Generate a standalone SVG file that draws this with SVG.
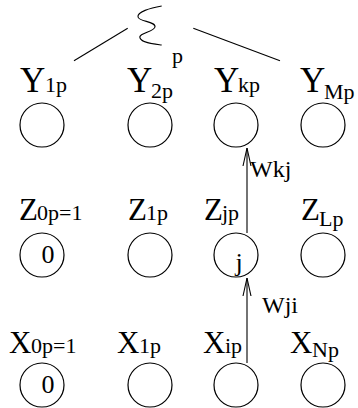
<svg xmlns="http://www.w3.org/2000/svg" width="358" height="408" viewBox="0 0 358 408" font-family="'Liberation Serif', 'DejaVu Serif', serif">
<style>
.n{fill:none;stroke:#000;stroke-width:1.2}
.c{fill:none;stroke:#000;stroke-width:1.1}
text, tspan{font-family:'Liberation Serif', 'DejaVu Serif', serif;fill:#000}
.y{font-size:35px}
.b{font-size:31px}
.s{font-size:22px}
.w{font-size:24px}
.i{font-size:26px}
</style>
<defs>
<marker id="ah" markerUnits="userSpaceOnUse" markerWidth="20" markerHeight="10" refX="18" refY="4" orient="auto" viewBox="0 0 20 8">
<path d="M0,0 L18,4 L0,8" fill="none" stroke="#000" stroke-width="1.1"/>
</marker>
</defs>
<g id="sum">
<path class="c" d="M161.7,6 C150,8 137,12 138,17 C139,22 156,21 155,27 C154,32 138,33 140,38 C142,43 154,44 161.7,45"/>
<text class="s" x="172" y="63">p</text>
</g>
<g id="connectors">
<line class="c" x1="74" y1="60.7" x2="127.7" y2="28.3"/>
<line class="c" x1="193.3" y1="28.3" x2="280" y2="60.7"/>
<line class="c" x1="247" y1="233" x2="247" y2="148" marker-end="url(#ah)"/>
<line class="c" x1="247" y1="363" x2="247" y2="278" marker-end="url(#ah)"/>
<text class="w" x="250" y="177">Wkj</text>
<text class="w" x="262" y="313">Wji</text>
</g>
<g id="Y1"><text x="20" y="92"><tspan class="y">Y</tspan><tspan class="s" x="45">1p</tspan></text><circle class="n" cx="42" cy="125" r="22"/></g>
<g id="Y2"><text x="127" y="92"><tspan class="y">Y</tspan><tspan class="s" x="151" y="98">2p</tspan></text><circle class="n" cx="150" cy="125" r="22"/></g>
<g id="Yk"><text x="214" y="92"><tspan class="y">Y</tspan><tspan class="s" x="238">kp</tspan></text><circle class="n" cx="236" cy="125" r="22"/></g>
<g id="YM"><text x="300" y="92"><tspan class="y">Y</tspan><tspan class="s" x="324" y="99">Mp</tspan></text><circle class="n" cx="323" cy="125" r="22"/></g>
<g id="Z0"><text x="19" y="220"><tspan class="b">Z</tspan><tspan class="s" x="37">0p=1</tspan></text><circle class="n" cx="42" cy="255" r="22"/><text class="i" x="48" y="263" text-anchor="middle">0</text></g>
<g id="Z1"><text x="128" y="220"><tspan class="b">Z</tspan><tspan class="s" x="146">1p</tspan></text><circle class="n" cx="150" cy="255" r="22"/></g>
<g id="Zj"><text x="204" y="220"><tspan class="b">Z</tspan><tspan class="s" x="222">jp</tspan></text><circle class="n" cx="236" cy="255" r="22"/><text class="i" x="239" y="271" text-anchor="middle">j</text></g>
<g id="ZL"><text x="301" y="220"><tspan class="b">Z</tspan><tspan class="s" x="319" y="226">Lp</tspan></text><circle class="n" cx="323" cy="255" r="22"/></g>
<g id="X0"><text x="9" y="353"><tspan class="b">X</tspan><tspan class="s" x="31">0p=1</tspan></text><circle class="n" cx="42" cy="385" r="22"/><text class="i" x="48" y="393" text-anchor="middle">0</text></g>
<g id="X1"><text x="117" y="353"><tspan class="b">X</tspan><tspan class="s" x="139">1p</tspan></text><circle class="n" cx="150" cy="385" r="22"/></g>
<g id="Xi"><text x="203" y="353"><tspan class="b">X</tspan><tspan class="s" x="225">ip</tspan></text><circle class="n" cx="236" cy="385" r="22"/></g>
<g id="XN"><text x="290" y="353"><tspan class="b">X</tspan><tspan class="s" x="312" y="357">Np</tspan></text><circle class="n" cx="323" cy="385" r="22"/></g>
</svg>
